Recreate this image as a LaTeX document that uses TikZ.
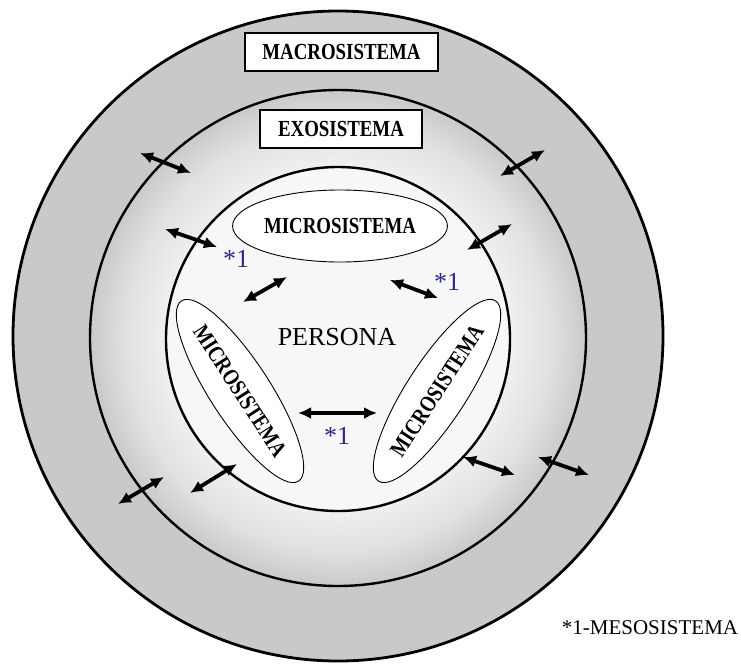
\documentclass[tikz,border=0pt]{standalone}
\usepackage{fontspec}
\setmainfont{Liberation Serif}
\newfontfamily\sysfont[FakeStretch=0.82]{Liberation Serif Bold}
\usetikzlibrary{arrows.meta,shapes.geometric}
\definecolor{mesoblue}{RGB}{40,40,150}
\pgfdeclareradialshading{exoshade}{\pgfpoint{0bp}{0bp}}{color(0bp)=(white); color(17.3bp)=(white!94!black); color(21.5bp)=(gray!24); color(25bp)=(gray!42); color(50bp)=(gray!42)}
\begin{document}
\begin{tikzpicture}[x=1pt, y=-1pt,
    sysbox/.style={draw, fill=white, line width=1.6pt, minimum width=#1, minimum height=38pt, inner sep=0pt, font=\sysfont\fontsize{23}{23}\selectfont},
    micro/.style={ellipse, draw, fill=white, line width=0.9pt, inner sep=0pt, font=\sysfont\fontsize{23}{23}\selectfont},
    meso/.style={{Latex[length=13pt,width=12pt]}-{Latex[length=13pt,width=12pt]}, line width=3.8pt},
    uno/.style={text=mesoblue, font=\fontsize{26}{26}\selectfont}]
  \useasboundingbox (0,0) rectangle (741,664);
  \draw[line width=2.8pt, fill=gray!42] (338,336) circle [radius=325pt];
  \shadedraw[line width=2.4pt, shading=exoshade] (338,338) circle [radius=248pt];
  \draw[line width=2.4pt, fill=white!97!black] (338,339) circle [radius=172pt];
  \node[sysbox=193pt] (macro) at (341.5,52) {MACROSISTEMA};
  \node[sysbox=162pt] (exo) at (341,129) {EXOSISTEMA};
  \node[micro, minimum width=202pt, minimum height=72pt] (mtop) at (340,226) {MICROSISTEMA};
  \node[micro, minimum width=200pt, minimum height=60pt, rotate=-57] (mleft) at (240,391) {MICROSISTEMA};
  \node[micro, minimum width=200pt, minimum height=60pt, rotate=57] (mright) at (437,391) {MICROSISTEMA};
  \node[font=\fontsize{26}{26}\selectfont] (persona) at (337,337) {PERSONA};
  \node[uno] (uno1) at (236,259) {*1};
  \node[uno] (uno2) at (447,282) {*1};
  \node[uno] (uno3) at (337,436) {*1};
  \node[font=\fontsize{21}{21}\selectfont] (nota) at (650,628) {*1-MESOSISTEMA};
  \foreach \n/\xa/\ya/\xb/\yb in {otl/140/153/191/173, itl/165/229/217/247, otr/545/150/500/176, itr/512/224/467/250,
      obl/164/477/118/504, ibl/237/464/190/493, ibr/463/457/515/475, obr/538/457/589/475,
      ml/287/277/243/302, mr/390/280/438/298, mb/298/413/377/413}
    {\coordinate (\n-a) at (\xa,\ya);
     \coordinate (\n-b) at (\xb,\yb);
     \draw[meso] (\n-a) -- (\n-b);}
\end{tikzpicture}
\end{document}
